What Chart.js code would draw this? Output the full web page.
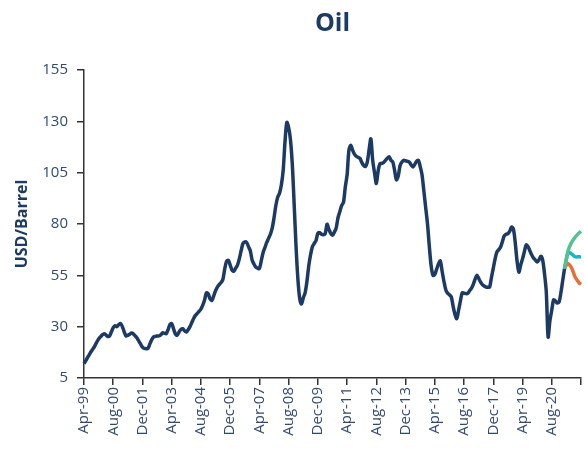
<!DOCTYPE html>
<html>
<head>
<meta charset="utf-8">
<script src="https://cdn.jsdelivr.net/npm/chart.js@4"></script>
<style>
  html, body { margin: 0; padding: 0; background: #fff; overflow: hidden; }
  #wrap { width: 584px; height: 457px; position: relative; }
</style>
</head>
<body>
<div id="wrap"><canvas id="chart"></canvas></div>
<script>
// monthly categories, Apr-99 .. Dec-21
const monthNames = ['Jan', 'Feb', 'Mar', 'Apr', 'May', 'Jun', 'Jul', 'Aug', 'Sep', 'Oct', 'Nov', 'Dec'];
const months = [];
for (let k = 0; k < 273; k++) {
  const m = (3 + k) % 12;
  const y = 1999 + Math.floor((3 + k) / 12);
  months.push(monthNames[m] + '-' + String(y % 100).padStart(2, '0'));
}

// labels shown on the x axis (every 16 months)
const tickLabels = ['Apr-99', 'Aug-00', 'Dec-01', 'Apr-03', 'Aug-04', 'Dec-05', 'Apr-07', 'Aug-08', 'Dec-09',
  'Apr-11', 'Aug-12', 'Dec-13', 'Apr-15', 'Aug-16', 'Dec-17', 'Apr-19', 'Aug-20'];
const yTicks = [5, 30, 55, 80, 105, 130, 155];

// USD/barrel, monthly
const oil = [
  12, 13.5, 15, 16.5, 18, 19.3, 20.8, 22.5, 24, 25, 26, 26.6,
  26, 25.2, 25.5, 27.5, 29.5, 30.5, 30, 31, 31.5, 30, 27.5, 25.5,
  25.8, 26.3, 26.9, 26.5, 25.5, 24.5, 23, 21.5, 20, 19.4, 19.3, 19.4,
  21.5, 23.5, 25, 25.3, 25.5, 25.5, 26, 27, 26.8, 26.6, 28.5, 31,
  31.5, 29, 26.5, 25.8, 27.4, 28.6, 29, 28, 27.4, 28.5, 30, 32,
  34, 35.5, 36.5, 37.5, 38.5, 40.5, 43, 46.5, 46, 43.5, 42.8, 45,
  47.5, 49.3, 50.5, 51.5, 53, 58, 61.8, 62.3, 60, 57.5, 57, 58.5,
  60, 63, 67, 70.5, 71.3, 71, 69, 67, 62.5, 60.5, 59, 58.5,
  58.3, 62, 66, 68.5, 71, 73, 75, 78, 83, 89, 93, 95,
  99, 106, 120, 129.5, 127, 121, 109, 90, 70, 54, 44, 41,
  44, 46.5, 52, 59.5, 65, 69, 70.5, 72, 75.5, 75.8, 75, 74.8,
  75.3, 79.9, 77.5, 75.5, 74.5, 76, 78, 83, 86, 89, 90.5, 98,
  104, 116, 118.4, 116, 114, 113, 112.5, 112, 110, 108.6, 108, 110,
  116, 121.5, 111, 105, 99.7, 106, 109.4, 109.5, 110, 111, 112, 112.7,
  111, 110.2, 106, 101.5, 103.5, 108.5, 110.2, 111, 110.8, 110.5, 110.2, 108.8,
  107.8, 109, 110.5, 111, 108, 104, 96, 88, 80, 69, 59.5, 55,
  55.5, 58, 60.5, 62, 57, 52, 48, 46.3, 45.5, 44.5, 40, 36,
  33.9, 38, 42.5, 46.5, 46.3, 46.1, 46.2, 47.5, 48.6, 50.5, 53, 55,
  53.5, 51.8, 50.5, 49.8, 49.3, 49.2, 49.3, 54, 58.5, 63, 66.4, 67.5,
  68.8, 71.5, 74.2, 75, 75.3, 76.5, 78.5, 77.5, 71, 62, 56.6, 60,
  63, 66.5, 69.8, 69, 67, 65, 63.4, 62.5, 61.5, 62.5, 64.3, 62.5,
  56, 47, 25, 33, 38, 43, 42.5, 41.5, 42, 46.5, 52.5, 58.3
];

// scenarios from the last actual month (index 263) to Dec-21
const forecastStart = 263;
const highCase = [58.3, 63, 67.2, 69.5, 71.3, 72.6, 73.8, 74.8, 75.7, 76.5];
const baseCase = [58.3, 63, 66.4, 66, 65.3, 64.5, 64, 64, 64, 63.9];
const lowCase = [58.3, 60, 60.7, 59.8, 58.3, 56, 53.8, 52.5, 51.3, 50.6];

function pad(arr) {
  return new Array(forecastStart).fill(null).concat(arr);
}

const textColor = '#34496e';
const axisColor = '#333333';

function lineSet(label, data, color, order) {
  return {
    label: label,
    data: data,
    borderColor: color,
    backgroundColor: color,
    borderWidth: 3.5,
    pointRadius: 0,
    tension: 0.3,
    fill: false,
    order: order
  };
}

const ctx = document.getElementById('chart').getContext('2d');
new Chart(ctx, {
  type: 'line',
  data: {
    labels: months,
    datasets: [
      lineSet('Oil', oil, '#1c3a64', 4),
      lineSet('High', pad(highCase), '#56c08f', 1),
      lineSet('Base', pad(baseCase), '#15b7c3', 2),
      lineSet('Low', pad(lowCase), '#e56f36', 3)
    ]
  },
  options: {
    responsive: true,
    maintainAspectRatio: false,
    animation: false,
    layout: { padding: { left: 0, right: 3, top: 0, bottom: 0 } },
    plugins: {
      legend: { display: false },
      tooltip: { enabled: false },
      title: {
        display: true,
        fullSize: false,
        text: 'Oil',
        color: '#1c3a64',
        font: { family: 'Open Sans', size: 25, weight: 'bold' },
        padding: { top: 9, bottom: 31 }
      }
    },
    scales: {
      x: {
        type: 'category',
        offset: false,
        border: { display: true, color: axisColor, width: 1.5 },
        grid: { display: true, drawOnChartArea: false, drawTicks: true, tickLength: 7, color: axisColor, lineWidth: 1.5 },
        afterBuildTicks: function (scale) {
          scale.ticks = scale.ticks.filter(t => t.value % 16 === 0);
        },
        afterFit: function (scale) {
          scale.height = 79;
          scale.paddingRight = 0;
          scale.paddingLeft = 0;
        },
        ticks: {
          autoSkip: false,
          maxRotation: 90,
          minRotation: 90,
          padding: 2,
          color: textColor,
          font: { family: 'Open Sans', size: 15 },
          callback: function (value) {
            const lab = this.getLabelForValue(value);
            return tickLabels.includes(lab) ? lab : '';
          }
        }
      },
      y: {
        min: 5,
        max: 155,
        afterBuildTicks: function (scale) {
          scale.ticks = yTicks.map(v => ({ value: v }));
        },
        afterFit: function (scale) {
          scale.width = 84;
        },
        border: { display: true, color: axisColor, width: 1.5 },
        grid: { display: true, drawOnChartArea: false, drawTicks: true, tickLength: 7, color: axisColor, lineWidth: 1.5 },
        ticks: {
          padding: 9,
          color: textColor,
          font: { family: 'Open Sans', size: 15 }
        },
        title: {
          display: true,
          text: 'USD/Barrel',
          color: '#1c3a64',
          font: { family: 'Open Sans', size: 16, weight: 'bold' },
          padding: { top: 13, bottom: 0 }
        }
      }
    }
  }
});
</script>
</body>
</html>
